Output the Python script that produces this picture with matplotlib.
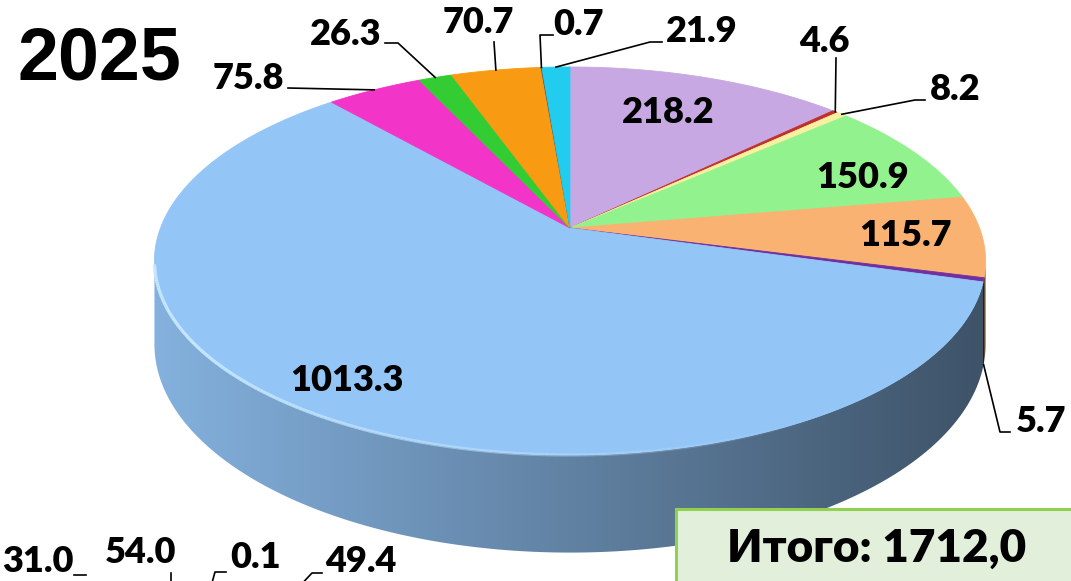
import numpy as np
import matplotlib
matplotlib.use('Agg')
import matplotlib.pyplot as plt
from matplotlib.collections import LineCollection
from matplotlib.patches import Polygon, Rectangle
from matplotlib.colors import to_rgb

# data (clockwise from 12 o'clock)
values = [218.2, 4.6, 8.2, 150.9, 115.7, 5.7, 1013.3, 75.8, 26.3, 70.7, 0.7, 21.9]
colors = ['#c8a8e2', '#c0302a', '#f8f0a0', '#92f28e', '#f9b272', '#7030a0',
          '#93c5f7', '#f234c8', '#33cc33', '#f89a12', '#606060', '#22ccee']
year = '2025'
other_labels = ['31.0', '54.0', '0.1', '49.4']  # labels of the next chart, cut off below

total = sum(values)
labels = ['%.1f' % v for v in values]

# projection of the tilted disc (pixel coordinates)
CX, CY = 570, 228
A, B, K = 409.5, 188.4, 0.17
DEPTH = 81


def proj(theta, r=1.0, drop=0.0):
    t = np.radians(theta)
    X = r * np.cos(t)
    Y = r * np.sin(t)
    den = 1 + K * Y
    return CX + A * X / den, CY - B * Y / den + drop / den


# wedge angles (math angle, going clockwise from 90)
spans = np.array(values) / total * 360
starts = 90 - np.concatenate([[0], np.cumsum(spans)[:-1]])
ends = starts - spans
mids = (starts + ends) / 2


def wedge_at(theta):
    a = (90 - theta) % 360
    return int(np.searchsorted(np.cumsum(spans), a))


fig = plt.figure(figsize=(10.71, 5.81), dpi=100)
ax = fig.add_axes([0, 0, 1, 1])
ax.set_xlim(0, 1071)
ax.set_ylim(581, 0)
ax.axis('off')

# side wall: gradient image clipped to the wall outline
th_l = 180 + np.degrees(np.arcsin(K))
th_r = 360 - np.degrees(np.arcsin(K))
ths = np.linspace(th_l, th_r, 600)
top = np.array([proj(t) for t in ths])
bot = np.array([proj(t, drop=DEPTH) for t in ths])
wall = Polygon(np.vstack([top, bot[::-1]]), closed=True, facecolor='none', edgecolor='none')
ax.add_patch(wall)
xs = np.arange(int(top[:, 0].min()) - 1, int(top[:, 0].max()) + 2) + 0.5
th_col = np.interp(xs, top[:, 0], ths)
img = np.zeros((1, len(xs), 3))
for j, (x, t) in enumerate(zip(xs, th_col)):
    f = 0.9 - 0.48 * (x - 152) / (983 - 152)
    img[0, j] = np.clip(np.array(to_rgb(colors[wedge_at(t)])) * f, 0, 1)
im = ax.imshow(img, extent=(xs[0] - 0.5, xs[-1] + 0.5, 560, 240), aspect='auto',
               interpolation='nearest', zorder=1)
im.set_clip_path(wall)

# top face
for i in range(len(values)):
    n = max(3, int(spans[i] * 2))
    th = np.linspace(starts[i], ends[i], n)
    pts = [(CX, CY)] + [proj(t) for t in th]
    ax.add_patch(Polygon(pts, closed=True, facecolor=colors[i], edgecolor=colors[i], lw=0.6, zorder=2))

# light rim on the front edge, fading to the right
rim = np.array([proj(t) for t in np.linspace(th_l + 1, 300, 200)])
segs = np.stack([rim[:-1], rim[1:]], axis=1)
alphas = np.clip(np.linspace(1.3, 0, len(segs)), 0, 1)
rim_cols = [(0.78, 0.91, 1.0, a) for a in alphas]
ax.add_collection(LineCollection(segs, colors=rim_cols, linewidths=2.4, zorder=3))

lab_font = dict(family=['Lato', 'Liberation Sans', 'DejaVu Sans'], fontweight='heavy', fontsize=26, color='black')

# labels inside the wedges
inner_pos = {0: (668, 123), 3: (862, 188), 4: (905, 246), 6: (347, 391)}
for i, (x, y) in inner_pos.items():
    ax.text(x, y, labels[i], ha='center', va='baseline', zorder=5, **lab_font)

# labels outside with leader lines
outer = {
    7: ((284, 89, 'right'), [(288, 88)]),
    8: ((346, 45, 'center'), [(385, 43), (398, 43)]),
    9: ((478, 33, 'center'), [(494, 42)]),
    10: ((578, 35, 'center'), [(553, 35), (540, 35)]),
    11: ((702, 42, 'center'), [(662, 42), (650, 42)]),
    1: ((824, 52, 'center'), [(836, 58)]),
    2: ((955, 100, 'center'), [(925, 100), (915, 100)]),
    5: ((1041, 432, 'center'), [(1010, 432), (1000, 432)]),
}
for i, ((tx, ty, ha), path) in outer.items():
    ax.text(tx, ty, labels[i], ha=ha, va='baseline', zorder=5, **lab_font)
    if np.sin(np.radians(mids[i])) < 0:
        anchor = proj(mids[i], drop=DEPTH)
    else:
        anchor = proj(mids[i])
    pts = np.array(path + [anchor])
    ax.plot(pts[:, 0], pts[:, 1], color='black', lw=1.2, zorder=4)

# year title
ax.text(18, 80, year, ha='left', va='baseline', family=['Liberation Sans', 'DejaVu Sans'],
        fontweight='bold', fontsize=53, color='black')

# total box
ax.add_patch(Rectangle((676, 509), 420, 100, facecolor='#e2efda', edgecolor='#92d050', lw=2.2, zorder=6))
ax.text(877, 562, 'Итого: ' + ('%.1f' % total).replace('.', ','), ha='center', va='baseline',
        family=['Lato', 'Liberation Sans', 'DejaVu Sans'], fontweight='heavy', fontsize=33,
        color='black', zorder=7)

# labels of the next chart, peeking in at the bottom
ax.text(2, 572, other_labels[0], ha='left', va='baseline', **lab_font)
ax.text(141, 563, other_labels[1], ha='center', va='baseline', **lab_font)
ax.text(230, 568, other_labels[2], ha='left', va='baseline', **lab_font)
ax.text(325, 572, other_labels[3], ha='left', va='baseline', **lab_font)
ax.plot([74, 86], [575, 575], color='black', lw=1.2)
ax.plot([171, 171], [573, 590], color='black', lw=1.2)
ax.plot([210, 215, 226], [590, 572, 572], color='black', lw=1.2)
ax.plot([296, 312, 322], [590, 573, 573], color='black', lw=1.2)

fig.savefig('out.png', dpi=100)
